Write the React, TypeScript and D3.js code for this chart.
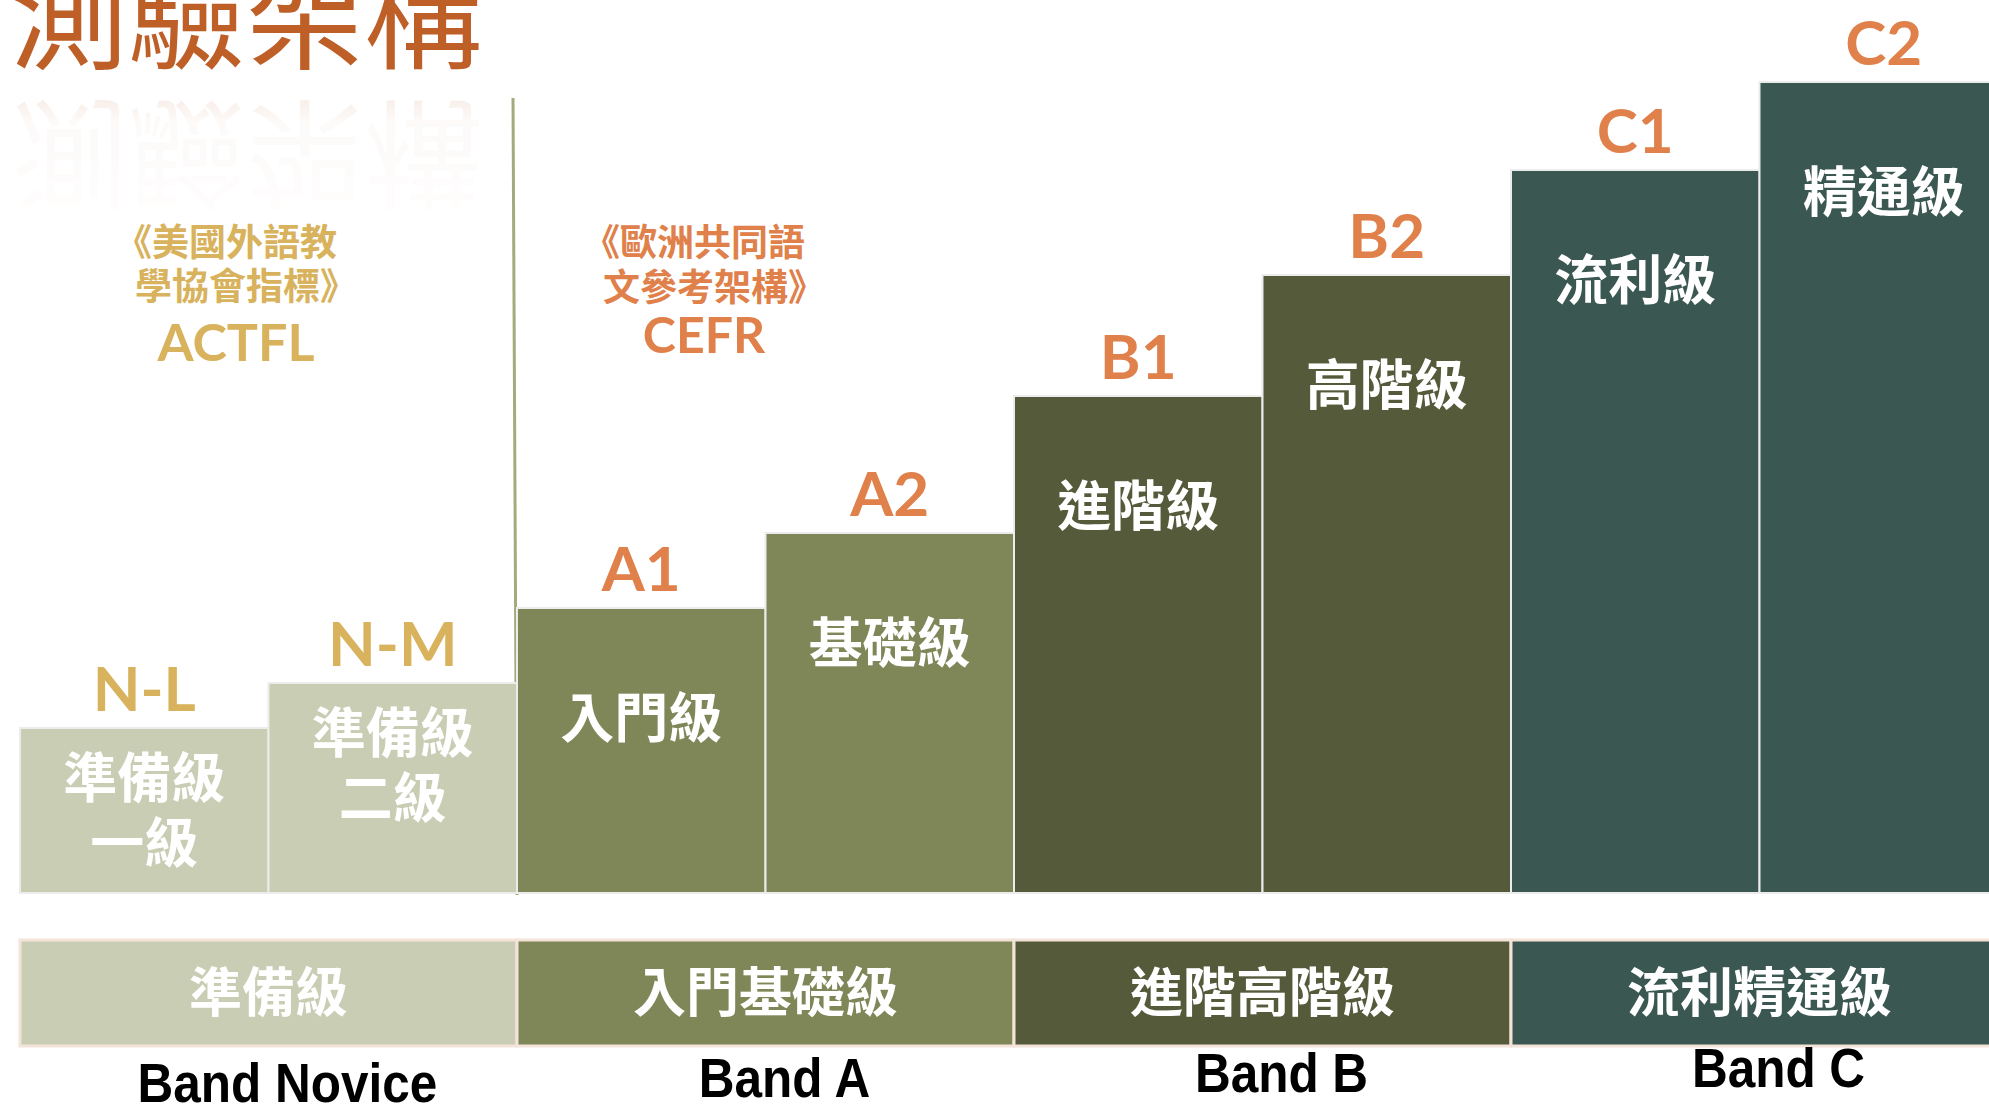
import * as d3 from "d3";
import { useEffect, useRef } from "react";

const W = 1989;
const H = 1110;

// levels (bars)
const levels = ["N-L", "N-M", "A1", "A2", "B1", "B2", "C1", "C2"];
const levelNames = [
  ["準備級", "一級"],
  ["準備級", "二級"],
  ["入門級"],
  ["基礎級"],
  ["進階級"],
  ["高階級"],
  ["流利級"],
  ["精通級"],
];
const levelHeights = [1.65, 2.1, 2.85, 3.6, 4.97, 6.18, 7.23, 8.11];
const levelBand = ["Novice", "Novice", "A", "A", "B", "B", "C", "C"];

// bands
const bands = ["Novice", "A", "B", "C"];
const bandNames = ["準備級", "入門基礎級", "進階高階級", "流利精通級"];
const bandLabels = ["Band Novice", "Band A", "Band B", "Band C"];

// headings
const title = "測驗架構";
const actflLines = ["《美國外語教", "學協會指標》", "ACTFL"];
const cefrLines = ["《歐洲共同語", "文參考架構》", "CEFR"];

const CJK = "'Noto Sans CJK TC', 'Noto Sans CJK SC', sans-serif";
const LATIN = "Lato, 'Open Sans', sans-serif";

export default function App() {
  const svgRef = useRef<SVGSVGElement>(null);

  useEffect(() => {
    if (!svgRef.current) return;
    const svg = d3.select(svgRef.current);
    svg.selectAll("*").remove();

    const baseY = 893;
    const x = d3.scaleBand().domain(levels).range([20, 2008]).padding(0);
    const y = d3.scaleLinear().domain([0, 10]).range([baseY, baseY - 1000]);

    const fill = d3
      .scaleOrdinal<string>()
      .domain(bands)
      .range(["#c9cdb4", "#7f8758", "#545a3a", "#3b5752"]);
    const labelColor = d3
      .scaleOrdinal<string>()
      .domain(bands)
      .range(["#d8b25c", "#e0804a", "#e0804a", "#e0804a"]);

    const defs = svg.append("defs");
    const grad = defs
      .append("linearGradient")
      .attr("id", "reflGrad")
      .attr("x1", 0)
      .attr("y1", 0)
      .attr("x2", 0)
      .attr("y2", 1);
    grad.append("stop").attr("offset", "0%").attr("stop-color", "#fff").attr("stop-opacity", 0.11);
    grad.append("stop").attr("offset", "20%").attr("stop-color", "#fff").attr("stop-opacity", 0.03);
    grad.append("stop").attr("offset", "100%").attr("stop-color", "#fff").attr("stop-opacity", 0.01);
    defs
      .append("mask")
      .attr("id", "reflMask")
      .attr("maskUnits", "userSpaceOnUse")
      .append("rect")
      .attr("x", 0)
      .attr("y", 98)
      .attr("width", 620)
      .attr("height", 118)
      .attr("fill", "url(#reflGrad)");

    // Title + reflection
    const titleStyle = (t: d3.Selection<SVGTextElement, unknown, null, undefined>) =>
      t
        .attr("x", 10)
        .attr("y", 60)
        .attr("font-family", CJK)
        .attr("font-weight", 400)
        .attr("font-size", 118)
        .attr("fill", "#bf5f28")
        .text(title);
    svg.append("text").call(titleStyle);
    svg
      .append("g")
      .attr("mask", "url(#reflMask)")
      .append("text")
      .attr("transform", "translate(0,170) scale(1,-1)")
      .call(titleStyle);

    // Divider
    const divX = x("A1")!;
    svg
      .append("line")
      .attr("x1", divX - 4)
      .attr("y1", 98)
      .attr("x2", divX)
      .attr("y2", baseY + 2)
      .attr("stroke", "#a3ab7e")
      .attr("stroke-width", 3);

    // Framework headings (full-width brackets shift the visual centre, so nudge)
    const nudge = [-10, 10, 0];
    const heading = (lines: string[], cx: number, color: string, ys: number[], latinSize: number) => {
      lines.forEach((l, i) => {
        const latin = i === lines.length - 1;
        svg
          .append("text")
          .attr("x", cx + nudge[i])
          .attr("y", ys[i])
          .attr("text-anchor", "middle")
          .attr("font-family", latin ? LATIN : CJK)
          .attr("font-weight", 700)
          .attr("font-size", latin ? latinSize : 37)
          .attr("fill", color)
          .text(l);
      });
    };
    heading(actflLines, 236, "#d8b25c", [256, 300, 361], 52);
    heading(cefrLines, 704, "#e0804a", [256, 301, 353], 50);

    // Level bars
    const g = svg.append("g");
    g.selectAll("rect")
      .data(levels)
      .enter()
      .append("rect")
      .attr("x", (d) => x(d)!)
      .attr("y", (d, i) => y(levelHeights[i]))
      .attr("width", x.bandwidth())
      .attr("height", (d, i) => baseY - y(levelHeights[i]))
      .attr("fill", (d, i) => fill(levelBand[i]))
      .attr("stroke", "#ececec")
      .attr("stroke-width", 2);

    // Level codes above bars
    g.selectAll("text.code")
      .data(levels)
      .enter()
      .append("text")
      .attr("class", "code")
      .attr("x", (d) => x(d)! + x.bandwidth() / 2)
      .attr("y", (d, i) => y(levelHeights[i]) - 17)
      .attr("text-anchor", "middle")
      .attr("font-family", LATIN)
      .attr("font-weight", 700)
      .attr("font-size", 62)
      .attr("fill", (d, i) => labelColor(levelBand[i]))
      .text((d) => d);

    // Names inside bars
    levels.forEach((d, i) => {
      const lines = levelNames[i];
      const top = y(levelHeights[i]);
      lines.forEach((l, j) => {
        const cy = lines.length > 1 ? top + 50 + j * 65 : top + 110;
        g.append("text")
          .attr("x", x(d)! + x.bandwidth() / 2)
          .attr("y", cy + 20)
          .attr("text-anchor", "middle")
          .attr("font-family", CJK)
          .attr("font-weight", 700)
          .attr("font-size", 54)
          .attr("fill", "#ffffff")
          .text(l);
      });
    });

    // Band strip
    const bandTop = 940;
    const bandH = 106;
    const bandSpan = (b: string) => {
      const ls = levels.filter((_, i) => levelBand[i] === b);
      const x0 = x(ls[0])!;
      const x1 = x(ls[ls.length - 1])! + x.bandwidth();
      return [x0, x1];
    };
    const bg = svg.append("g");
    bands.forEach((b, i) => {
      const [x0, x1] = bandSpan(b);
      bg.append("rect")
        .attr("x", x0)
        .attr("y", bandTop)
        .attr("width", x1 - x0)
        .attr("height", bandH)
        .attr("fill", fill(b))
        .attr("stroke", "#f3e3d8")
        .attr("stroke-width", 3);
      const cx = (x0 + Math.min(x1, W + 20)) / 2;
      bg.append("text")
        .attr("x", cx)
        .attr("y", bandTop + bandH / 2 + 19)
        .attr("text-anchor", "middle")
        .attr("font-family", CJK)
        .attr("font-weight", 700)
        .attr("font-size", 53)
        .attr("fill", "#ffffff")
        .text(bandNames[i]);
      bg.append("text")
        .attr("transform", `translate(${cx + 19},${1102 - i * 5}) scale(0.9,1)`)
        .attr("text-anchor", "middle")
        .attr("font-family", "'Liberation Sans Narrow', 'Liberation Sans', sans-serif")
        .attr("font-weight", 700)
        .attr("font-size", 55)
        .attr("fill", "#000000")
        .text(bandLabels[i]);
    });
  }, []);

  return (
    <svg
      ref={svgRef}
      width={W}
      height={H}
      style={{ position: "absolute", left: 0, top: 0, display: "block", background: "#ffffff" }}
    />
  );
}
